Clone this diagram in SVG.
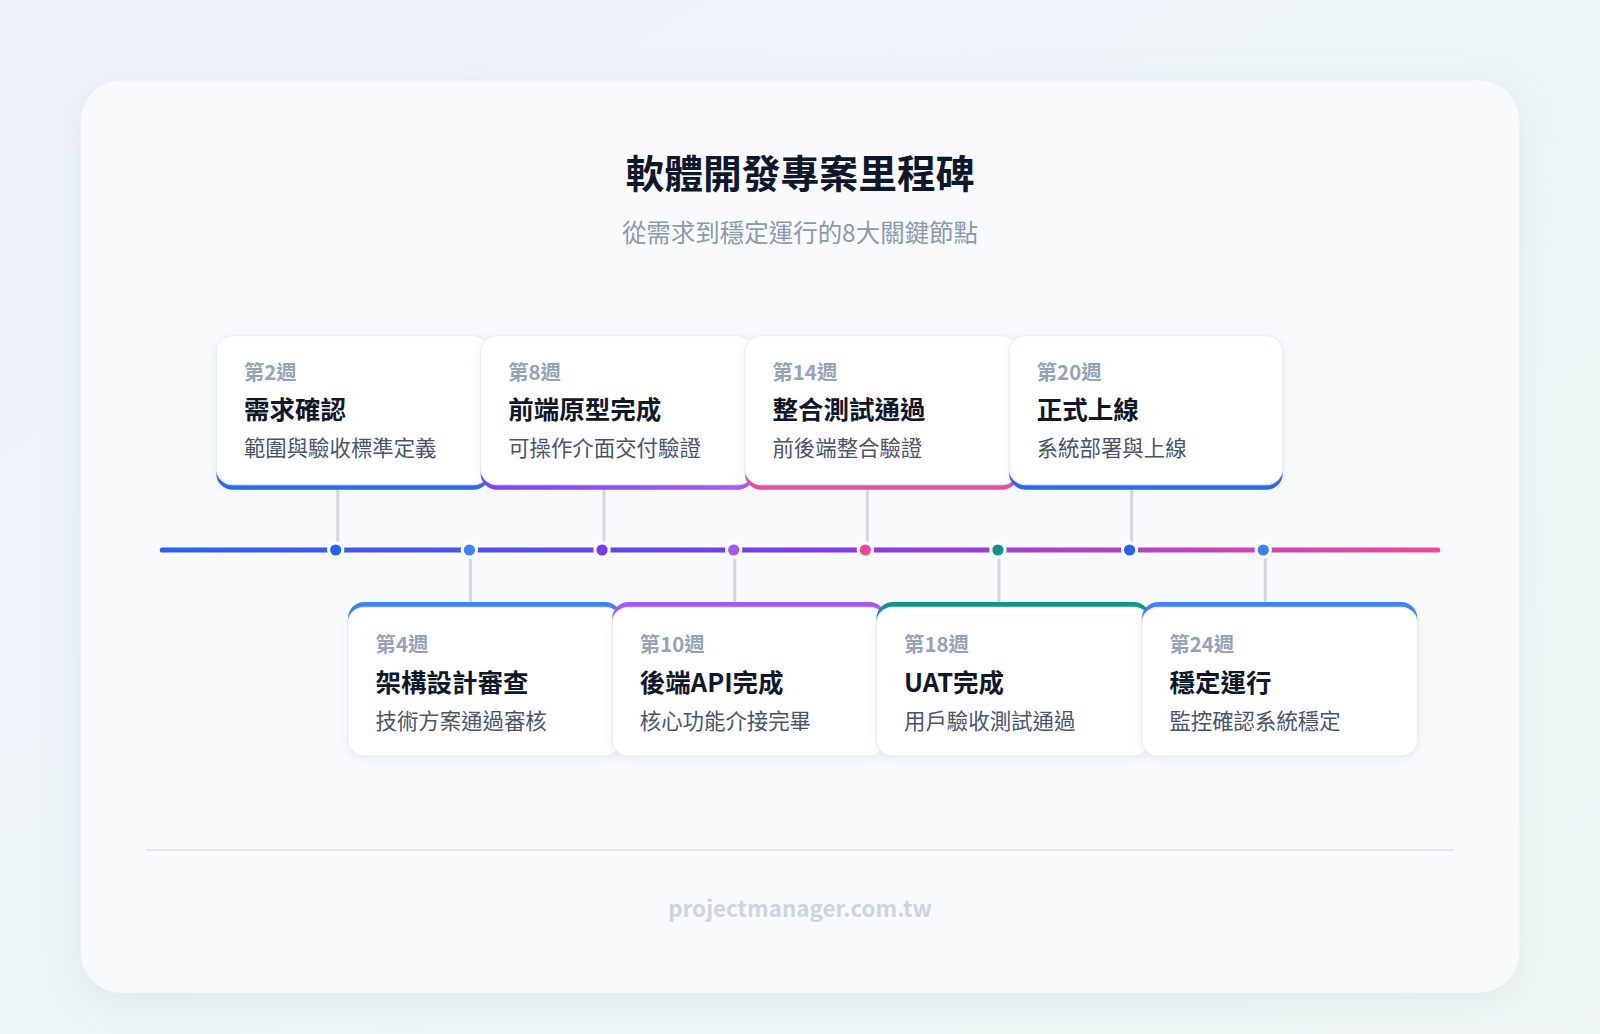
<svg xmlns="http://www.w3.org/2000/svg" width="1600" height="1034" viewBox="0 0 1600 1034">
<defs>
<linearGradient id="bg" x1="0" y1="0" x2="1" y2="1"><stop offset="0" stop-color="#eef2fb"/><stop offset="1" stop-color="#eef8f4"/></linearGradient>
<linearGradient id="tl" gradientUnits="userSpaceOnUse" x1="159" y1="0" x2="1409" y2="0"><stop offset="0" stop-color="#2563eb"/><stop offset="0.5" stop-color="#7c3aed"/><stop offset="1" stop-color="#ec4899"/></linearGradient>
<linearGradient id="g2" x1="0" x2="1"><stop offset="0" stop-color="#7c3aed"/><stop offset="1" stop-color="#a855f7"/></linearGradient>
<filter id="sh" x="-10%" y="-10%" width="120%" height="130%"><feDropShadow dx="0" dy="8" stdDeviation="16" flood-color="#94a3b8" flood-opacity="0.18"/></filter>
<filter id="cs" x="-10%" y="-10%" width="120%" height="130%"><feDropShadow dx="0" dy="2" stdDeviation="4" flood-color="#94a3b8" flood-opacity="0.18"/></filter>
</defs>
<style>
text{font-family:"Noto Sans CJK TC","Liberation Sans",sans-serif}
.wk{font-size:20px;font-weight:700;fill:#94a3b8}
.tt{font-size:25px;font-weight:700;fill:#0f172a}
.ds{font-size:21px;fill:#475569}
.card{fill:#fff;stroke:#e8edf3;stroke-width:1}
.ln{stroke:#d4d8de;stroke-width:3}
.dot{stroke:#fff;stroke-width:3}
</style>
<rect width="1600" height="1034" fill="url(#bg)"/>
<g transform="scale(1.0204)">
<rect x="79" y="79" width="1410" height="894" rx="40" fill="#f8fafc" filter="url(#sh)"/>
<text x="784" y="184" text-anchor="middle" font-size="38" font-weight="700" fill="#0f172a">軟體開發專案里程碑</text>
<text x="784" y="237" text-anchor="middle" font-size="24" fill="#8a99ad">從需求到穩定運行的8大關鍵節點</text>
<g id="connectors">
<line x1="159" y1="539" x2="1409" y2="539" stroke="url(#tl)" stroke-width="5" stroke-linecap="round"/>
<line class="ln" x1="331" y1="479" x2="331" y2="532"/>
<line class="ln" x1="592" y1="479" x2="592" y2="532"/>
<line class="ln" x1="850" y1="479" x2="850" y2="532"/>
<line class="ln" x1="1109" y1="479" x2="1109" y2="532"/>
<line class="ln" x1="461" y1="546" x2="461" y2="592" stroke-width="2"/>
<line class="ln" x1="720" y1="546" x2="720" y2="592" stroke-width="2"/>
<line class="ln" x1="979" y1="546" x2="979" y2="592" stroke-width="2"/>
<line class="ln" x1="1240" y1="546" x2="1240" y2="592" stroke-width="2"/>
<circle class="dot" cx="329" cy="539" r="7" fill="#2563eb"/>
<circle class="dot" cx="460" cy="539" r="7" fill="#3b82f6"/>
<circle class="dot" cx="590" cy="539" r="7" fill="#7c3aed"/>
<circle class="dot" cx="719" cy="539" r="7" fill="#a855f7"/>
<circle class="dot" cx="848" cy="539" r="7" fill="#ec4899"/>
<circle class="dot" cx="978" cy="539" r="7" fill="#0d9488"/>
<circle class="dot" cx="1107" cy="539" r="7" fill="#2563eb"/>
<circle class="dot" cx="1238" cy="539" r="7" fill="#3b82f6"/>
</g>
<g id="m1"><rect x="212" y="333" width="268" height="147" rx="16" fill="#2563eb"/><rect class="card" x="212" y="329" width="268" height="146" rx="16" filter="url(#cs)"/>
<text class="wk" x="239" y="372">第2週</text><text class="tt" x="239" y="411">需求確認</text><text class="ds" x="239" y="447">範圍與驗收標準定義</text></g>
<g id="m2"><rect x="471" y="333" width="268" height="147" rx="16" fill="url(#g2)"/><rect class="card" x="471" y="329" width="268" height="146" rx="16" filter="url(#cs)"/>
<text class="wk" x="498" y="372">第8週</text><text class="tt" x="498" y="411">前端原型完成</text><text class="ds" x="498" y="447">可操作介面交付驗證</text></g>
<g id="m3"><rect x="730" y="333" width="268" height="147" rx="16" fill="#ec4899"/><rect class="card" x="730" y="329" width="268" height="146" rx="16" filter="url(#cs)"/>
<text class="wk" x="757" y="372">第14週</text><text class="tt" x="757" y="411">整合測試通過</text><text class="ds" x="757" y="447">前後端整合驗證</text></g>
<g id="m4"><rect x="989" y="333" width="268" height="147" rx="16" fill="#2563eb"/><rect class="card" x="989" y="329" width="268" height="146" rx="16" filter="url(#cs)"/>
<text class="wk" x="1016" y="372">第20週</text><text class="tt" x="1016" y="411">正式上線</text><text class="ds" x="1016" y="447">系統部署與上線</text></g>
<g id="m5"><rect x="341" y="590" width="268" height="147" rx="16" fill="#3b82f6"/><rect class="card" x="341" y="595" width="268" height="146" rx="16" filter="url(#cs)"/>
<text class="wk" x="368" y="639">第4週</text><text class="tt" x="368" y="678">架構設計審查</text><text class="ds" x="368" y="714">技術方案通過審核</text></g>
<g id="m6"><rect x="600" y="590" width="268" height="147" rx="16" fill="#a855f7"/><rect class="card" x="600" y="595" width="268" height="146" rx="16" filter="url(#cs)"/>
<text class="wk" x="627" y="639">第10週</text><text class="tt" x="627" y="678">後端API完成</text><text class="ds" x="627" y="714">核心功能介接完畢</text></g>
<g id="m7"><rect x="859" y="590" width="268" height="147" rx="16" fill="#0d9488"/><rect class="card" x="859" y="595" width="268" height="146" rx="16" filter="url(#cs)"/>
<text class="wk" x="886" y="639">第18週</text><text class="tt" x="886" y="678">UAT完成</text><text class="ds" x="886" y="714">用戶驗收測試通過</text></g>
<g id="m8"><rect x="1119" y="590" width="270" height="147" rx="16" fill="#3b82f6"/><rect class="card" x="1119" y="595" width="270" height="146" rx="16" filter="url(#cs)"/>
<text class="wk" x="1146" y="639">第24週</text><text class="tt" x="1146" y="678">穩定運行</text><text class="ds" x="1146" y="714">監控確認系統穩定</text></g>
<line x1="143" y1="833" x2="1425" y2="833" stroke="#e5e9ee" stroke-width="2"/>
<text x="784" y="899" text-anchor="middle" font-size="22" font-weight="700" fill="#cbd5e1" font-family="Inter,'Liberation Sans',sans-serif">projectmanager.com.tw</text>
</g>
</svg>
